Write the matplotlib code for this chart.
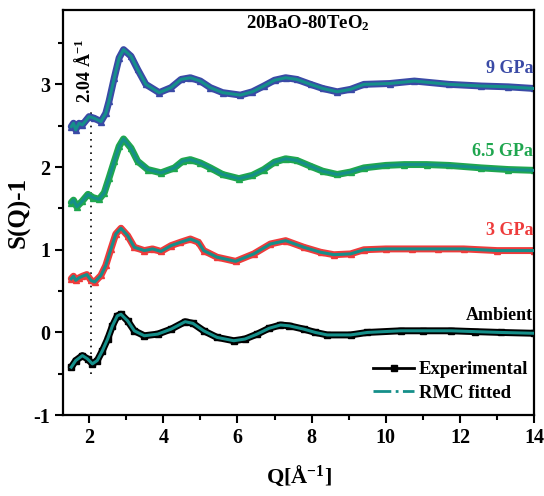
import matplotlib
matplotlib.use("Agg")
import matplotlib.pyplot as plt
from matplotlib.lines import Line2D

plt.rcParams['font.family'] = ['Liberation Serif', 'DejaVu Serif']
plt.rcParams['font.weight'] = 'bold'
plt.rcParams['mathtext.fontset'] = 'custom'
plt.rcParams['mathtext.rm'] = 'Liberation Serif:bold'
plt.rcParams['mathtext.it'] = 'Liberation Serif:bold'
plt.rcParams['mathtext.bf'] = 'Liberation Serif:bold'
plt.rcParams['axes.unicode_minus'] = False

# ---- data ----
q_amb = [1.52, 1.64, 1.82, 1.96, 2.09, 2.22, 2.36, 2.50, 2.63, 2.76, 2.86, 3.04, 3.22, 3.49,
         3.85, 4.21, 4.59, 4.80, 5.09, 5.45, 5.90, 6.20, 6.53, 6.85, 7.16, 7.40, 7.79, 8.10,
         8.42, 9.05, 9.50, 10.4, 11.0, 11.76, 12.4, 13.1, 14.0]
s_amb = [-0.42, -0.34, -0.28, -0.32, -0.38, -0.34, -0.22, -0.08, 0.08, 0.20, 0.22, 0.14, 0.02, -0.04,
         -0.02, 0.04, 0.13, 0.11, 0.02, -0.06, -0.10, -0.08, -0.02, 0.05, 0.09, 0.08, 0.04, 0.00,
         -0.03, -0.03, 0.00, 0.02, 0.02, 0.02, 0.01, 0.00, -0.01]

q_3 = [1.52, 1.58, 1.64, 1.73, 1.82, 1.94, 2.05, 2.15, 2.32, 2.45, 2.59, 2.72, 2.86, 3.04, 3.22,
       3.49, 3.71, 3.94, 4.21, 4.46, 4.73, 4.95, 5.09, 5.45, 5.95, 6.44, 6.89, 7.30, 7.79, 8.24,
       8.60, 9.05, 9.41, 10.0, 10.7, 11.4, 12.1, 13.0, 14.0]
s_3 = [0.65, 0.68, 0.63, 0.66, 0.68, 0.70, 0.63, 0.61, 0.69, 0.81, 1.01, 1.19, 1.26, 1.17, 1.03,
       0.99, 1.01, 0.98, 1.05, 1.09, 1.13, 1.09, 0.99, 0.91, 0.86, 0.95, 1.07, 1.11, 1.03, 0.97,
       0.94, 0.95, 1.00, 1.01, 1.01, 1.01, 1.01, 0.99, 0.99]

q_65 = [1.52, 1.58, 1.67, 1.82, 1.97, 2.11, 2.27, 2.41, 2.54, 2.68, 2.81, 2.93, 3.13, 3.31, 3.58,
        3.94, 4.30, 4.52, 4.73, 5.00, 5.27, 5.60, 6.04, 6.40, 6.71, 7.00, 7.30, 7.60, 7.97, 8.30,
        8.69, 9.05, 9.41, 10.0, 10.5, 11.1, 11.7, 12.57, 13.3, 14.0]
s_65 = [1.57, 1.60, 1.52, 1.59, 1.67, 1.63, 1.61, 1.69, 1.87, 2.07, 2.25, 2.34, 2.23, 2.07, 1.97,
        1.93, 1.99, 2.07, 2.09, 2.05, 1.99, 1.91, 1.86, 1.90, 1.97, 2.06, 2.10, 2.08, 2.01, 1.95,
        1.91, 1.94, 1.99, 2.02, 2.03, 2.03, 2.02, 1.99, 1.97, 1.96]

q_9 = [1.52, 1.58, 1.64, 1.73, 1.82, 2.00, 2.14, 2.32, 2.45, 2.54, 2.68, 2.81, 2.93, 3.13, 3.31,
       3.53, 3.89, 4.21, 4.48, 4.73, 5.00, 5.27, 5.60, 6.08, 6.40, 6.71, 7.00, 7.30, 7.60, 7.97,
       8.30, 8.69, 9.05, 9.41, 10.1, 10.77, 11.7, 12.57, 13.3, 14.0]
s_9 = [2.49, 2.53, 2.45, 2.53, 2.51, 2.61, 2.59, 2.55, 2.65, 2.80, 3.08, 3.32, 3.42, 3.34, 3.18,
       3.00, 2.90, 2.96, 3.06, 3.08, 3.04, 2.96, 2.90, 2.87, 2.91, 2.98, 3.05, 3.08, 3.06, 3.00,
       2.95, 2.91, 2.94, 3.00, 3.01, 3.04, 3.00, 2.98, 2.97, 2.95]

labels = ["Ambient", "3 GPa", "6.5 GPa", "9 GPa"]
colors = ["black", "#ee3b3b", "#1fa64f", "#3a4aa6"]
markers = ["s", "^", "^", "^"]
label_y = [0.20, 1.23, 2.19, 3.19]
fit_color = "#158f8a"

series = [(q_amb, s_amb), (q_3, s_3), (q_65, s_65), (q_9, s_9)]

fig = plt.figure(figsize=(5.44, 4.96), dpi=100)
ax = fig.add_axes([0.116, 0.163, 0.866, 0.817])

for (q, s), c, m, lab, ly in zip(series, colors, markers, labels, label_y):
    ax.plot(q, s, color=c, lw=5.0, marker=m, ms=4.5, mfc=c, mec=c, solid_capstyle='round',
            solid_joinstyle='round', zorder=2)
    ax.plot(q, s, color=fit_color, lw=2.2, ls='-', zorder=3)
    ax.text(13.97, ly, lab, color=c, fontsize=13, fontweight='bold', ha='right', va='center')

# dotted marker line at 2.04
ax.plot([2.04, 2.04], [-0.5, 2.66], color='black', ls=(0, (1, 3)), lw=1.2, zorder=1)
ax.text(1.85, 3.16, r"2.04 Å$^{-1}$", rotation=90, ha='center', va='center', fontsize=13)

ax.text(7.9, 3.74, r"20BaO-80TeO$_2$", ha='center', va='center', fontsize=13.5)

ax.set_xlim(1.3, 14)
ax.set_ylim(-1, 3.9)
ax.set_xticks([2, 4, 6, 8, 10, 12, 14])
ax.set_xticks([3, 5, 7, 9, 11, 13], minor=True)
ax.set_yticks([-1, 0, 1, 2, 3])
ax.set_yticks([-0.5, 0.5, 1.5, 2.5, 3.5], minor=True)
ax.tick_params(which='major', direction='out', length=6, width=1.5, labelsize=14.5)
ax.tick_params(which='minor', direction='out', length=3.5, width=1.5)
for lab in ax.get_xticklabels() + ax.get_yticklabels():
    lab.set_fontweight('bold')
for sp in ax.spines.values():
    sp.set_linewidth(1.6)

ax.set_xlabel(r"Q[Å$^{-1}$]", fontsize=16, fontweight='bold', labelpad=11)
ax.set_ylabel("S(Q)-1", fontsize=18, fontweight='bold', labelpad=2)

handles = [Line2D([], [], color='black', lw=2, marker='s', ms=4),
           Line2D([], [], color=fit_color, lw=2, ls='-.')]
ax.legend(handles, ["Experimental", "RMC fitted"], loc='lower right', frameon=False,
          prop={'size': 13.5, 'weight': 'bold'}, handlelength=2.2, handletextpad=0.25,
          labelspacing=0.35, bbox_to_anchor=(1.012, 0.005), borderaxespad=0.2)

fig.savefig("out.png", dpi=100)
